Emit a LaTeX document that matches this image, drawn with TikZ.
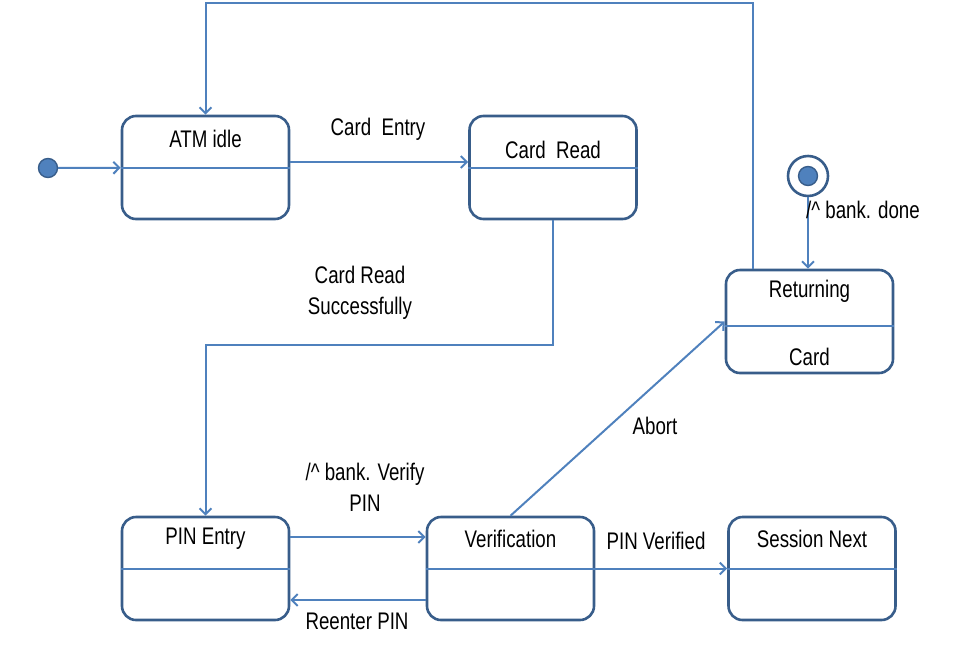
\documentclass[tikz,border=0pt]{standalone}
\usepackage{fontspec}
\setmainfont{Liberation Sans}[FakeStretch=0.78]
\usetikzlibrary{arrows.meta,positioning,calc}
\definecolor{edgeblue}{RGB}{79,129,189}
\definecolor{boxblue}{RGB}{56,93,138}

\begin{document}
\begin{tikzpicture}[x=1pt,y=-1pt]
    \tikzset{state/.style={
        draw=boxblue, line width=2.6pt, rounded corners=14pt,
        minimum width=167pt, minimum height=103pt, inner sep=0pt
      },
      divider/.style={edgeblue, line width=2pt},
      trans/.style={edgeblue, line width=2pt, -{Straight Barb[length=6pt,width=12pt]}},
      txt/.style={font=\fontsize{24}{31}\selectfont, align=center, inner sep=0pt},
      initdot/.style={circle, fill=edgeblue, draw=boxblue, line width=1.4pt, minimum size=19pt, inner sep=0pt},
      finalring/.style={circle, draw=boxblue, line width=2.6pt, minimum size=40pt, inner sep=0pt}
    }
    \useasboundingbox (0,0) rectangle (971,662);

    \node[state] (idle) at (205.5,167.5) {};
    \node[state] (read) at (553,167.5) {};
    \node[state] (ret) at (809.5,321.5) {};
    \node[state] (pin) at (205.5,568.5) {};
    \node[state] (ver) at (510.5,568.5) {};
    \node[state] (sess) at (812,568.5) {};

    \foreach \s in {idle,read,pin,ver,sess}
      \draw[divider] (\s.west) -- (\s.east);
    \draw[divider] ([yshift=-4.5pt]ret.west) -- ([yshift=-4.5pt]ret.east);

    \node[txt] (idle-t) at ([yshift=-24pt]idle.north) {ATM idle};
    \node[txt] (read-t) at ([yshift=-35pt]read.north) {Card\ \ Read};
    \node[txt] (ret-t) at ([yshift=-23pt]ret.north) {Returning};
    \node[txt] (ret-b) at ([yshift=17pt]ret.south) {Card};
    \node[txt] (pin-t) at ([yshift=-23pt]pin.north) {PIN Entry};
    \node[txt] (ver-t) at ([yshift=-23pt]ver.north) {Verification};
    \node[txt] (sess-t) at ([yshift=-23pt]sess.north) {Session Next};

    \node[initdot] (start) at (48,168) {};
    \node[finalring] (end) at (808,176) {};
    \node[initdot] (end-dot) at (end) {};

    \draw[trans] (start) -- (idle);
    \draw[trans] ([yshift=5.5pt]idle.east) -- ([yshift=5.5pt]read.west);

    \coordinate (top) at (753,3);
    \draw[trans] (ret.north -| top) -- (top) -| (idle.north);

    \coordinate (bend) at (553,345);
    \draw[trans] (read.south) -- (bend) -| (pin.north);

    \draw[trans] (end) -- (end |- ret.north);
    \draw[trans] (ver.north) -- (ret.west);
    \draw[trans] ([yshift=31.5pt]pin.east) -- ([yshift=31.5pt]ver.west);
    \draw[trans] ([yshift=-31.5pt]ver.west) -- ([yshift=-31.5pt]pin.east);
    \draw[trans] (ver) -- (sess);

    \node[txt] (entry-l) at (378,129) {Card\ \ Entry};
    \node[txt] (success-l) at (360,293) {Card Read\\Successfully};
    \node[txt, anchor=west] (done-l) at (806,210) {/\textasciicircum\ bank. done};
    \node[txt] (abort-l) at (655,426) {Abort};
    \node[txt] (verify-l) at (365,487) {/\textasciicircum\ bank. Verify\\PIN};
    \node[txt] (verified-l) at (656,541) {PIN Verified};
    \node[txt] (reenter-l) at (357,621) {Reenter PIN};
  \end{tikzpicture}
\end{document}
